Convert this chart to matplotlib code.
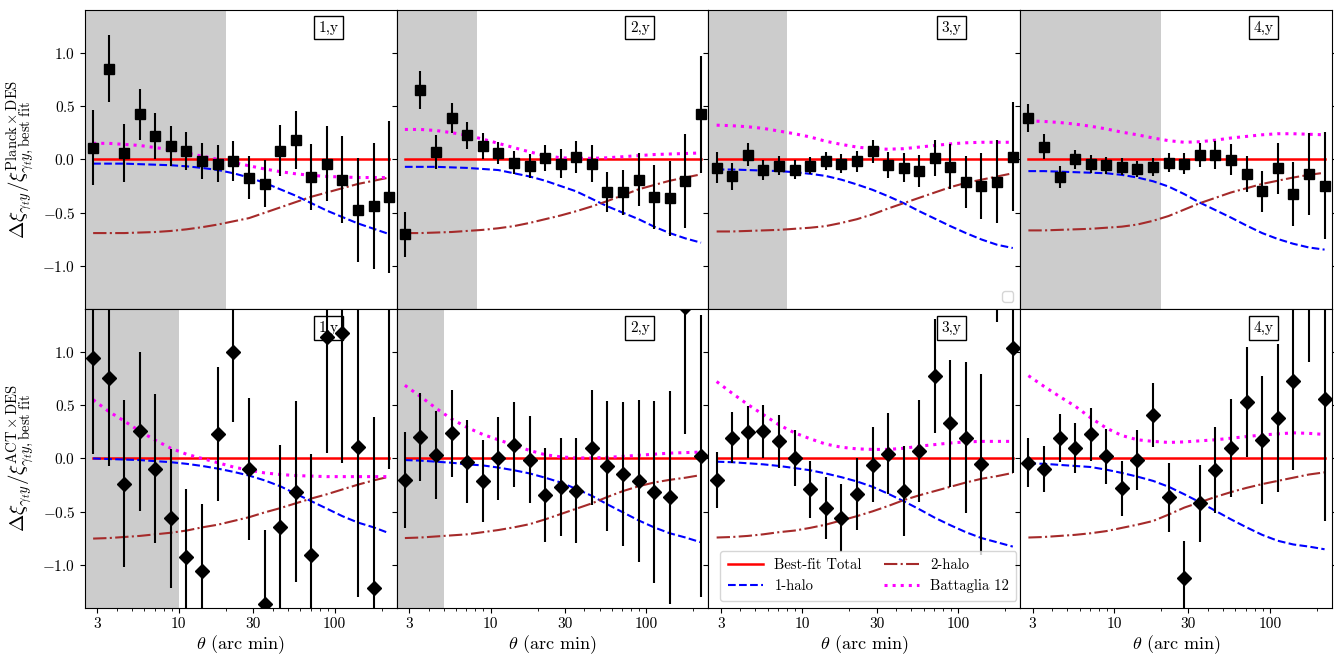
import numpy as np
import matplotlib
matplotlib.use("Agg")
import matplotlib.pyplot as plt

plt.rcParams['font.family'] = 'serif'
plt.rcParams['font.serif'] = ['cmr10']
plt.rcParams['mathtext.fontset'] = 'cm'
plt.rcParams['axes.formatter.use_mathtext'] = True

# angular bins (arcmin)
theta = [2.82, 3.55, 4.47, 5.62, 7.08, 8.91, 11.2, 14.1, 17.8, 22.4,
         28.2, 35.5, 44.7, 56.2, 70.8, 89.1, 112, 141, 178, 224]

# ---- Planck x DES (top row), one list per tomographic bin
planck_pts = [
    [0.11, 0.85, 0.06, 0.42, 0.22, 0.125, 0.08, -0.015, -0.04, -0.015,
     -0.17, -0.23, 0.08, 0.18, -0.165, -0.04, -0.19, -0.475, -0.44, -0.35],
    [-0.70, 0.65, 0.07, 0.385, 0.225, 0.125, 0.06, -0.03, -0.06, 0.015,
     -0.04, 0.025, -0.04, -0.305, -0.31, -0.19, -0.355, -0.365, -0.20, 0.42],
    [-0.08, -0.16, 0.045, -0.10, -0.06, -0.095, -0.06, -0.015, -0.04, -0.02,
     0.075, -0.055, -0.08, -0.11, 0.01, -0.07, -0.21, -0.25, -0.21, 0.025],
    [0.385, 0.12, -0.165, 0.0, -0.045, -0.055, -0.07, -0.09, -0.07, -0.03,
     -0.04, 0.04, 0.04, -0.005, -0.14, -0.30, -0.085, -0.325, -0.135, -0.245],
]
planck_err = [
    [0.35, 0.31, 0.27, 0.24, 0.215, 0.19, 0.18, 0.17, 0.17, 0.185,
     0.20, 0.22, 0.24, 0.27, 0.31, 0.35, 0.41, 0.485, 0.59, 0.71],
    [0.21, 0.18, 0.16, 0.14, 0.125, 0.12, 0.105, 0.105, 0.11, 0.12,
     0.135, 0.15, 0.17, 0.19, 0.21, 0.25, 0.30, 0.35, 0.44, 0.55],
    [0.145, 0.125, 0.105, 0.095, 0.09, 0.085, 0.08, 0.08, 0.09, 0.095,
     0.105, 0.12, 0.135, 0.15, 0.17, 0.21, 0.245, 0.305, 0.39, 0.51],
    [0.13, 0.115, 0.10, 0.09, 0.085, 0.08, 0.08, 0.075, 0.085, 0.09,
     0.10, 0.115, 0.13, 0.145, 0.17, 0.195, 0.235, 0.30, 0.385, 0.50],
]
planck_1h = [
    [-0.04, -0.04, -0.04, -0.045, -0.05, -0.055, -0.065, -0.08, -0.10, -0.13,
     -0.17, -0.22, -0.28, -0.34, -0.41, -0.48, -0.54, -0.60, -0.65, -0.70],
    [-0.07, -0.07, -0.07, -0.075, -0.08, -0.09, -0.10, -0.13, -0.16, -0.20,
     -0.25, -0.30, -0.37, -0.44, -0.50, -0.56, -0.63, -0.69, -0.74, -0.78],
    [-0.095, -0.095, -0.10, -0.105, -0.11, -0.12, -0.135, -0.155, -0.19, -0.235,
     -0.285, -0.345, -0.41, -0.485, -0.555, -0.625, -0.69, -0.75, -0.80, -0.83],
    [-0.11, -0.11, -0.115, -0.12, -0.125, -0.13, -0.145, -0.17, -0.205, -0.255,
     -0.325, -0.405, -0.475, -0.545, -0.62, -0.69, -0.745, -0.79, -0.825, -0.845],
]
planck_2h = [
    [-0.69, -0.69, -0.69, -0.685, -0.68, -0.67, -0.655, -0.635, -0.61, -0.58,
     -0.55, -0.50, -0.45, -0.40, -0.35, -0.31, -0.27, -0.23, -0.20, -0.17],
    [-0.69, -0.69, -0.685, -0.68, -0.67, -0.66, -0.645, -0.625, -0.595, -0.56,
     -0.525, -0.485, -0.44, -0.39, -0.335, -0.28, -0.24, -0.20, -0.17, -0.14],
    [-0.675, -0.675, -0.67, -0.665, -0.66, -0.65, -0.64, -0.625, -0.595, -0.56,
     -0.515, -0.46, -0.41, -0.36, -0.31, -0.26, -0.22, -0.19, -0.16, -0.13],
    [-0.665, -0.665, -0.66, -0.655, -0.65, -0.64, -0.63, -0.61, -0.575, -0.53,
     -0.47, -0.41, -0.36, -0.31, -0.27, -0.23, -0.20, -0.17, -0.145, -0.125],
]
planck_b12 = [
    [0.15, 0.15, 0.14, 0.13, 0.11, 0.09, 0.06, 0.03, 0.0, -0.03,
     -0.06, -0.09, -0.115, -0.135, -0.15, -0.16, -0.165, -0.17, -0.17, -0.17],
    [0.28, 0.28, 0.27, 0.25, 0.225, 0.19, 0.15, 0.11, 0.07, 0.035,
     0.015, 0.01, 0.01, 0.015, 0.025, 0.035, 0.045, 0.05, 0.055, 0.06],
    [0.32, 0.315, 0.305, 0.29, 0.265, 0.24, 0.21, 0.17, 0.14, 0.115,
     0.10, 0.095, 0.10, 0.115, 0.13, 0.145, 0.155, 0.16, 0.16, 0.16],
    [0.36, 0.355, 0.345, 0.33, 0.31, 0.285, 0.255, 0.23, 0.20, 0.175,
     0.16, 0.165, 0.18, 0.20, 0.215, 0.23, 0.24, 0.24, 0.235, 0.23],
]
planck_cut = [20.0, 8.2, 8.0, 20.0]

# ---- ACT x DES (bottom row)
act_pts = [
    [0.945, 0.75, -0.235, 0.255, -0.095, -0.56, -0.92, -1.055, 0.23, 1.0,
     -0.095, -1.36, -0.64, -0.31, -0.90, 1.14, 1.17, 0.105, -1.21, 1.70],
    [-0.20, 0.20, 0.03, 0.235, -0.03, -0.21, 0.0, 0.13, -0.01, -0.345,
     -0.265, -0.30, 0.10, -0.07, -0.145, -0.21, -0.315, -0.365, 1.42, 0.02],
    [-0.20, 0.195, 0.245, 0.255, 0.16, 0.005, -0.29, -0.465, -0.555, -0.335,
     -0.06, 0.045, -0.305, 0.07, 0.775, 0.33, 0.195, -0.055, 1.75, 1.03],
    [-0.04, -0.095, 0.19, 0.10, 0.225, 0.02, -0.28, -0.015, 0.41, -0.365,
     -1.12, -0.42, -0.11, 0.095, 0.525, 0.175, 0.38, 0.725, 1.70, 0.555],
]
act_err = [
    [0.90, 0.82, 0.78, 0.745, 0.70, 0.65, 0.63, 0.625, 0.63, 0.66,
     0.665, 0.69, 0.765, 0.85, 0.945, 1.09, 1.21, 1.40, 1.60, 1.80],
    [0.45, 0.415, 0.41, 0.41, 0.39, 0.385, 0.385, 0.395, 0.41, 0.44,
     0.46, 0.49, 0.54, 0.605, 0.67, 0.76, 0.85, 1.0, 1.19, 1.32],
    [0.265, 0.24, 0.245, 0.25, 0.25, 0.26, 0.27, 0.29, 0.32, 0.335,
     0.35, 0.38, 0.42, 0.475, 0.535, 0.595, 0.71, 0.85, 0.47, 1.17],
    [0.23, 0.215, 0.225, 0.235, 0.245, 0.255, 0.26, 0.28, 0.30, 0.32,
     0.345, 0.36, 0.405, 0.46, 0.515, 0.60, 0.69, 0.835, 0.80, 1.145],
]
act_1h = [
    [0.0, -0.005, -0.01, -0.015, -0.025, -0.035, -0.05, -0.07, -0.095, -0.125,
     -0.16, -0.205, -0.26, -0.33, -0.40, -0.47, -0.54, -0.60, -0.645, -0.70],
    [-0.015, -0.02, -0.03, -0.04, -0.055, -0.065, -0.085, -0.11, -0.14, -0.18,
     -0.225, -0.285, -0.35, -0.43, -0.505, -0.58, -0.645, -0.70, -0.74, -0.785],
    [-0.03, -0.035, -0.045, -0.055, -0.07, -0.09, -0.11, -0.14, -0.175, -0.215,
     -0.265, -0.33, -0.40, -0.475, -0.555, -0.625, -0.69, -0.745, -0.785, -0.825],
    [-0.045, -0.05, -0.06, -0.07, -0.08, -0.105, -0.135, -0.17, -0.21, -0.265,
     -0.335, -0.41, -0.49, -0.57, -0.645, -0.715, -0.77, -0.805, -0.825, -0.85],
]
act_2h = [
    [-0.75, -0.745, -0.735, -0.725, -0.71, -0.695, -0.675, -0.645, -0.62, -0.585,
     -0.55, -0.505, -0.465, -0.42, -0.375, -0.335, -0.29, -0.245, -0.205, -0.17],
    [-0.745, -0.74, -0.73, -0.72, -0.71, -0.69, -0.67, -0.645, -0.615, -0.57,
     -0.52, -0.47, -0.42, -0.36, -0.305, -0.26, -0.225, -0.20, -0.18, -0.155],
    [-0.74, -0.735, -0.725, -0.71, -0.69, -0.675, -0.65, -0.62, -0.58, -0.54,
     -0.495, -0.445, -0.39, -0.345, -0.305, -0.265, -0.225, -0.19, -0.165, -0.135],
    [-0.74, -0.735, -0.725, -0.715, -0.70, -0.68, -0.65, -0.62, -0.585, -0.525,
     -0.46, -0.41, -0.36, -0.315, -0.275, -0.24, -0.21, -0.18, -0.15, -0.13],
]
act_b12 = [
    [0.55, 0.44, 0.35, 0.255, 0.17, 0.095, 0.04, 0.0, -0.04, -0.08,
     -0.11, -0.135, -0.15, -0.16, -0.165, -0.17, -0.17, -0.17, -0.17, -0.17],
    [0.685, 0.58, 0.47, 0.37, 0.29, 0.225, 0.175, 0.125, 0.075, 0.035,
     0.015, 0.005, 0.005, 0.01, 0.02, 0.03, 0.04, 0.05, 0.055, 0.06],
    [0.72, 0.61, 0.505, 0.41, 0.315, 0.24, 0.185, 0.135, 0.105, 0.09,
     0.085, 0.085, 0.095, 0.115, 0.13, 0.145, 0.155, 0.16, 0.16, 0.16],
    [0.775, 0.675, 0.58, 0.49, 0.38, 0.285, 0.215, 0.175, 0.16, 0.15,
     0.155, 0.165, 0.175, 0.19, 0.205, 0.22, 0.23, 0.24, 0.235, 0.225],
]
act_cut = [10.0, 5.0, None, None]

bin_labels = ['1,y', '2,y', '3,y', '4,y']

fig, axes = plt.subplots(2, 4, figsize=(13.34, 6.54), dpi=100, sharex=True, sharey=True)
fig.subplots_adjust(left=0.0637, right=0.9985, top=0.985, bottom=0.0703, wspace=0, hspace=0)

rows = [(planck_pts, planck_err, planck_1h, planck_2h, planck_b12, planck_cut, 's'),
        (act_pts, act_err, act_1h, act_2h, act_b12, act_cut, 'D')]

for r, (pts, err, h1, h2, b12, cut, mk) in enumerate(rows):
    for c in range(4):
        ax = axes[r, c]
        ax.set_xscale('log')
        if cut[c] is not None:
            ax.axvspan(2.5, cut[c], color='0.8', lw=0, zorder=0)
        ax.plot(theta, np.zeros(len(theta)), color='red', lw=1.8, label='Best-fit Total', zorder=3)
        ax.plot(theta, h1[c], color='blue', ls='--', lw=1.5, label='1-halo', zorder=3)
        ax.plot(theta, h2[c], color='brown', ls='-.', lw=1.5, label='2-halo', zorder=3)
        ax.plot(theta, b12[c], color='magenta', ls=':', lw=2.2, label='Battaglia 12', zorder=3)
        ax.errorbar(theta, pts[c], yerr=err[c], fmt=mk, color='black', ms=7,
                    elinewidth=1.5, capsize=0, zorder=4)
        ax.text(0.78, 0.94 if r == 0 else 0.936, bin_labels[c], transform=ax.transAxes,
                ha='center', va='center', fontsize=11,
                bbox=dict(boxstyle='square,pad=0.3', fc='white', ec='black', lw=1))
        ax.tick_params(which='both', right=True, labelsize=11)
        if r == 1:
            ax.set_xlabel(r'$\theta$ (arc min)', fontsize=13, labelpad=1)
        if r == 1 and c == 2:
            ax.legend(loc='lower left', bbox_to_anchor=(0.015, 0.0), ncol=2, fontsize=10.5,
                      handlelength=2.4, columnspacing=1.5, borderpad=0.5,
                      fancybox=True, framealpha=0.8)
        if r == 0 and c == 2:
            ax.legend(handles=[], loc='lower right')

axes[1, 0].set_xlim(2.5, 250)
axes[1, 0].set_ylim(-1.4, 1.4)
axes[1, 0].set_xticks([3, 10, 30, 100])
axes[1, 0].set_xticklabels(['3', '10', '30', '100'])
axes[1, 0].set_yticks([-1.0, -0.5, 0.0, 0.5, 1.0])

axes[0, 0].set_ylabel(r'$\Delta\xi_{\gamma_t y}/\xi^{\rm Planck\times DES}_{\gamma_t y,\rm best\ fit}$', fontsize=15)
axes[1, 0].set_ylabel(r'$\Delta\xi_{\gamma_t y}/\xi^{\rm ACT\times DES}_{\gamma_t y,\rm best\ fit}$', fontsize=15)

fig.savefig('out.png', dpi=100)
